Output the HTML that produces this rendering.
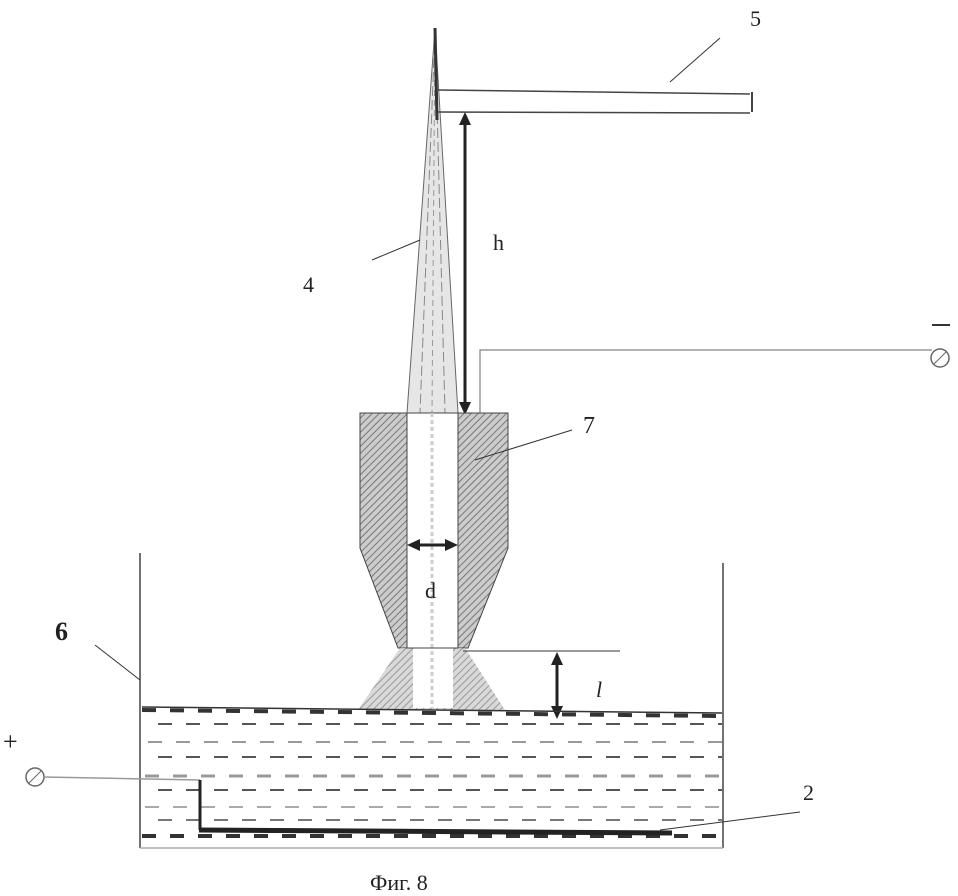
<!DOCTYPE html>
<html><head><meta charset="utf-8"><style>body{margin:0;background:#fff}svg{display:block}text{font-family:"Liberation Serif",serif;fill:#222}</style></head><body>
<svg width="958" height="896" viewBox="0 0 958 896" xmlns="http://www.w3.org/2000/svg">
<defs>
<pattern id="h" width="5" height="5" patternUnits="userSpaceOnUse" patternTransform="rotate(45)">
<rect width="5" height="5" fill="#ccc"/><line x1="0" y1="0" x2="0" y2="5" stroke="#777" stroke-width="2"/></pattern>
</defs>
<!-- jet -->
<polygon points="435,28 407,413 458,413" fill="#e6e6e6" stroke="#666"/>
<line x1="435" y1="30" x2="420" y2="413" stroke="#888" stroke-dasharray="10,4"/>
<line x1="435" y1="30" x2="445" y2="413" stroke="#888" stroke-dasharray="10,4"/>
<line x1="435" y1="30" x2="432" y2="413" stroke="#999" stroke-dasharray="6,4"/>
<line x1="435" y1="28" x2="437" y2="120" stroke="#333" stroke-width="3"/>
<!-- electrode 5 -->
<line x1="438" y1="90" x2="750" y2="94" stroke="#444" stroke-width="1.5"/>
<line x1="438" y1="112" x2="750" y2="113" stroke="#444" stroke-width="1.5"/>
<line x1="752" y1="92" x2="752" y2="112" stroke="#444" stroke-width="2"/>
<line x1="670" y1="82" x2="720" y2="38" stroke="#333"/>
<text x="750" y="26" font-size="22">5</text>
<!-- h arrow -->
<line x1="465" y1="115" x2="465" y2="410" stroke="#222" stroke-width="3"/>
<polygon points="459,125 465,112 471,125" fill="#222"/>
<polygon points="459,402 465,415 471,402" fill="#222"/>
<text x="493" y="250" font-size="22">h</text>
<!-- 4 -->
<line x1="372" y1="260" x2="420" y2="240" stroke="#333"/>
<text x="303" y="292" font-size="22">4</text>
<!-- nozzle -->
<path d="M360,413 H508 V548 L468,648 H398 L360,548 Z" fill="url(#h)" stroke="#444"/>
<path d="M400,648 L358,710 H505 L465,648 Z" fill="url(#h)" opacity="0.75"/>
<rect x="407" y="413" width="51" height="235" fill="#fff" stroke="#444"/>
<rect x="413" y="648" width="40" height="60" fill="#fff"/>
<line x1="432" y1="413" x2="432" y2="708" stroke="#ccc" stroke-width="3" stroke-dasharray="4,3"/>
<line x1="407" y1="648" x2="458" y2="648" stroke="#444"/>
<!-- wire minus -->
<polyline points="480,413 480,350 932,350" fill="none" stroke="#666"/>
<circle cx="940" cy="358" r="9" fill="none" stroke="#666" stroke-width="1.5"/>
<line x1="934" y1="364" x2="946" y2="352" stroke="#666"/>
<line x1="932" y1="325" x2="950" y2="325" stroke="#333" stroke-width="2"/>
<!-- 7 -->
<line x1="475" y1="460" x2="572" y2="430" stroke="#333"/>
<text x="583" y="433" font-size="24">7</text>
<!-- d -->
<line x1="412" y1="545" x2="453" y2="545" stroke="#222" stroke-width="3"/>
<polygon points="420,539 407,545 420,551" fill="#222"/>
<polygon points="445,539 458,545 445,551" fill="#222"/>
<text x="425" y="598" font-size="22">d</text>
<!-- l -->
<line x1="463" y1="651" x2="620" y2="651" stroke="#333"/>
<line x1="557" y1="658" x2="557" y2="712" stroke="#222" stroke-width="3"/>
<polygon points="551,665 557,652 563,665" fill="#222"/>
<polygon points="551,706 557,719 563,706" fill="#222"/>
<text x="596" y="697" font-size="22" font-style="italic">l</text>
<!-- tank -->
<line x1="140" y1="553" x2="140" y2="848" stroke="#444" stroke-width="1.5"/>
<line x1="723" y1="563" x2="723" y2="848" stroke="#444" stroke-width="1.5"/>
<line x1="140" y1="848" x2="723" y2="848" stroke="#aaa" stroke-width="1.5"/>
<line x1="142" y1="707" x2="722" y2="713" stroke="#333" stroke-width="1.5"/>
<line x1="142" y1="710" x2="722" y2="716" stroke="#333" stroke-width="4" stroke-dasharray="14,14"/>
<g stroke-dasharray="14,14" stroke-width="2">
<line x1="158" y1="724" x2="722" y2="724" stroke="#555"/>
<line x1="148" y1="742" x2="722" y2="742" stroke="#999"/>
<line x1="158" y1="757" x2="722" y2="757" stroke="#555"/>
<line x1="145" y1="776" x2="722" y2="776" stroke="#999" stroke-width="3"/>
<line x1="158" y1="790" x2="722" y2="790" stroke="#555"/>
<line x1="145" y1="807" x2="722" y2="807" stroke="#aaa"/>
<line x1="158" y1="820" x2="722" y2="820" stroke="#777"/>
<line x1="142" y1="836" x2="722" y2="836" stroke="#333" stroke-width="4"/>
</g>
<!-- 6 -->
<line x1="95" y1="645" x2="140" y2="680" stroke="#333"/>
<text x="55" y="640" font-size="26" font-weight="bold">6</text>
<!-- plus electrode -->
<text x="3" y="750" font-size="26">+</text>
<circle cx="35" cy="777" r="9" fill="none" stroke="#666" stroke-width="1.5"/>
<line x1="29" y1="783" x2="41" y2="771" stroke="#666"/>
<line x1="44" y1="777" x2="200" y2="780" stroke="#999" stroke-width="1.5"/>
<line x1="200" y1="780" x2="200" y2="830" stroke="#222" stroke-width="3"/>
<line x1="199" y1="830" x2="672" y2="833" stroke="#222" stroke-width="5"/>
<line x1="660" y1="830" x2="800" y2="812" stroke="#333"/>
<text x="803" y="800" font-size="22">2</text>
<text x="370" y="890" font-size="22">Фиг. 8</text>
</svg>
</body></html>
